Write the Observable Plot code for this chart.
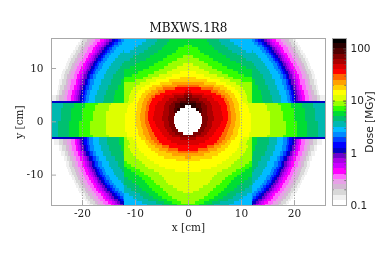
<!DOCTYPE html>
<html><head><meta charset="utf-8">
<script src="https://cdn.jsdelivr.net/npm/d3@7"></script>
<script src="https://cdn.jsdelivr.net/npm/@observablehq/plot@0.6"></script>
<style>
html,body{margin:0;padding:0;background:#fff;overflow:hidden}
#wrap{position:relative;width:383px;height:273px;filter:blur(0.35px)}
#wrap svg{position:absolute;left:0;top:0;overflow:visible;background:transparent}
</style></head><body><div id="wrap"></div>
<script>
const chartTitle = "MBXWS.1R8";
const xTicks = [-20,-10,0,10,20];
const yTicks = [-10,0,10];
const barTicks = [0.1,1,10,100];
const barMinor = [0.2,0.3,0.4,0.5,0.6,0.7,0.8,0.9,2,3,4,5,6,7,8,9,20,30,40,50,60,70,80,90];
const doseLevels = [0.1,0.126,0.158,0.2,0.251,0.316,0.398,0.501,0.631,0.794,1,1.26,1.58,2,2.51,3.16,3.98,5.01,6.31,7.94,10,12.6,15.8,20,25.1,31.6,39.8,50.1,63.1,79.4,100,126,158];
const bandColors = ["#ffffff","#f0f0f0","#d8d8d8","#d4b8d4","#e8a0e8","#ff66ff","#ff00ff","#cc00ff","#aa00e8","#6a00cc","#0000c4","#0000ff","#0040ff","#0088ff","#00bbff","#00b8b0","#00c070","#00dd33","#33ff00","#99ff00","#ddff00","#ffff00","#ffd000","#ffa000","#ff6600","#ff0000","#d80000","#aa0000","#800000","#500000","#280000","#000000"];

// each row: lower y, upper y, inner |x|, first band, then the outer |x| of that band and of each next lower band
const innerTop = [
[3.4,3.9,0,29,1.6,2.9,4.1,5.6,7,7.7,8.5,9.4,10.4,11.4,12],
[3.9,4.4,0,29,0.4,2,3.5,5,6.7,7.3,8.3,9.2,10.2,11.2,12],
[4.4,4.9,0,28,0.8,2.7,4.5,6.3,6.9,8,8.9,10,11.1,12],
[4.9,5.4,0,27,0.8,3,5.3,6.3,7.5,8.6,9.8,11,12],
[5.4,5.9,0,26,0.6,4.4,5.6,7,8.2,9.5,10.8,12],
[5.9,6.4,0,25,2.5,4.8,6,7.4,8.9,10.4,12],
[6.4,6.9,0,24,2,5,6.7,8.2,9.8,12],
[6.9,7.4,0,23,3,5.3,7.2,9,12],
[7.4,7.9,0,22,3.5,6,8,10,12],
[7.9,8.4,0,22,1.5,4.2,6.8,8.5,12],
[8.4,8.9,0,21,3,5.5,7.5,10.5,12],
[8.9,9.4,0,21,1.5,4,6.5,9.5,12],
[9.4,9.9,0,20,3,5.5,8.5,12],
[9.9,10.4,0,20,2,4.6,7.4,11,12],
[10.4,10.9,0,20,1,3.8,6.5,10,12],
[10.9,11.4,0,19,3,5.6,9,12],
[11.4,11.9,0,19,2,4.8,8,11,12],
[11.9,12.4,0,19,1,4,7.2,10.3,12],
[12.4,12.9,0,18,3,6.4,9.3,12],
[12.9,13.4,0,18,2.3,5.7,8.3,11,12],
[13.4,13.9,0,18,1.8,5,7.6,10.2,12],
[13.9,14.4,0,18,0.8,4.5,6.9,9.4,12],
[14.4,14.9,0,17,4,6.3,8.7,12],
[14.9,15.4,0,17,3.6,5.8,8,12],
[15.4,15.9,0,17,3.2,5.2,7.4,12]
];
const blockTop = [
[3.4,3.8,12,17,14.2,16,17.6,18.8,19.4,19.8,20.2,26],
[3.8,4.9,12,17,14,15.8,17.5,18.7,19.3,19.7,20,20.4,20.8,21.2,21.6,22.1,22.8,23.4,24.3,25,25.8],
[4.9,5.9,12,17,13.7,15.5,17.2,18.4,19,19.5,19.8,20.2,20.6,20.9,21.3,21.8,22.6,23.2,23.7,24.3,24.8],
[5.9,6.9,12,17,13.2,15.1,16.8,18.1,18.7,19.2,19.5,19.9,20.3,20.6,21,21.6,22.3,22.9,23.4,24.1,24.6],
[6.9,7.9,12,17,12.7,14.6,16.4,17.7,18.4,18.8,19.1,19.5,20,20.3,20.7,21.2,22,22.6,23.1,23.8,24.3],
[7.9,8.9,12,17,12.1,14.1,15.9,17.3,17.9,18.4,18.7,19.1,19.6,19.9,20.3,20.9,21.6,22.2,22.8,23.4,24],
[8.9,9.4,12,16,13.6,15.5,16.9,17.5,18,18.3,18.8,19.2,19.6,20,20.5,21.3,22,22.5,23.2,23.7],
[9.4,9.9,12,16,13.3,15.2,16.6,17.3,17.7,18.1,18.5,19,19.3,19.8,20.3,21.1,21.7,22.3,23,23.5],
[9.9,10.4,12,16,12.9,14.9,16.3,17,17.5,17.8,18.3,18.7,19.1,19.5,20.1,20.9,21.5,22.1,22.7,23.3],
[10.4,10.9,12,16,12.5,14.5,16,16.7,17.2,17.5,18,18.5,18.8,19.3,19.8,20.6,21.3,21.8,22.5,23.1],
[10.9,11.4,12,16,12.1,14.1,15.7,16.4,16.9,17.2,17.7,18.2,18.5,19,19.5,20.3,21,21.6,22.3,22.8],
[11.4,11.9,12,15,13.7,15.3,16,16.5,16.9,17.3,17.8,18.2,18.7,19.2,20,20.7,21.3,22,22.6],
[11.9,12.4,12,15,13.3,14.9,15.6,16.1,16.5,17,17.5,17.9,18.3,18.9,19.7,20.4,21,21.7,22.3],
[12.4,12.9,12,15,12.8,14.5,15.2,15.7,16.1,16.6,17.1,17.5,18,18.6,19.4,20.1,20.7,21.4,22],
[12.9,13.4,12,15,12.3,14,14.8,15.3,15.7,16.2,16.8,17.1,17.6,18.2,19.1,19.8,20.4,21.1,21.7],
[13.4,13.9,12,14,13.5,14.4,14.9,15.3,15.8,16.4,16.8,17.3,17.9,18.8,19.5,20.1,20.8,21.4],
[13.9,14.4,12,14,13,13.9,14.4,14.8,15.4,15.9,16.3,16.9,17.5,18.4,19.1,19.7,20.5,21.1],
[14.4,14.9,12,14,12.4,13.3,13.9,14.3,14.9,15.5,15.9,16.4,17.1,18,18.7,19.4,20.1,20.7],
[14.9,15.4,12,13,12.7,13.3,13.8,14.4,15,15.4,15.9,16.6,17.6,18.3,19,19.8,20.4],
[15.4,15.9,12,13,12.1,12.8,13.2,13.9,14.5,14.9,15.5,16.2,17.1,17.9,18.6,19.4,20]
];
const stripRows = [
[3,3.4,0,30,1.5,2.5,3.2,4.3,5.9,7.2,7.8,8.6,9.6,11,14.5,17,19.5,21.5,23.5,26],
[2.5,3,0.5,30,1.5,2.5,3.5,4.5,6.2,7.3,8,8.7,9.6,11.3,15,17.5,19.5,21.5,23.5,26],
[2,2.5,1.5,30,2,2.6,3.6,4.6,6.3,7.4,8,8.8,9.7,11.5,15,17.5,20,22,24,26],
[1.5,2,2,29,2.6,3.6,4.7,6.4,7.5,8.1,8.9,9.8,11.6,15.5,18,20,22,24,26],
[1,1.5,2.4,28,3.6,4.8,6.5,7.6,8.2,9,9.9,11.8,15.5,18,20,22,24,26],
[0.5,1,2.6,28,3.7,4.9,6.6,7.6,8.2,9,9.9,11.8,15.5,18,20,22,24,26],
[0,0.5,2.7,28,3.7,4.9,6.6,7.6,8.2,9,9.9,11.8,15.5,18,20,22,24,26],
[-0.5,0,2.7,28,3.5,4.6,6.2,7.4,8.1,8.9,9.8,11.8,15.5,18.5,20.5,22.5,24.5,26],
[-1,-0.5,2.5,28,3.5,4.6,6,7.2,8,8.8,9.8,11.8,15.5,18.5,20.5,22.5,24.5,26],
[-1.5,-1,2.2,28,3.2,4.3,5.6,7,7.8,8.7,9.7,11.8,15.5,18.5,20.5,22.5,24.5,26],
[-2,-1.5,1.8,28,3,4,5.3,6.8,7.6,8.5,9.5,11.8,15.5,18.5,20.5,22.5,24.5,26],
[-2.5,-2,1,28,2.5,3.5,5,6.5,7.4,8.4,9.4,11.6,15.5,18.5,20.5,22.5,24.5,26],
[-3,-2.5,0,28,1.5,3,4.5,6.2,7.2,8.2,9.2,11.5,15,18,20.5,22.5,24.5,26]
];
const innerBottom = [
[-3.5,-3,0,27,1.5,4,5.9,7,8,8.8,10.4,11.5,12],
[-4,-3.5,0,26,3.3,5.4,6.4,7.3,8.2,9.8,11.2,12],
[-4.5,-4,0,26,2,4.9,5.9,7,7.9,9.7,11,12],
[-5,-4.5,0,25,3.5,4.9,6.3,7.6,9.6,11.4,12],
[-5.5,-5,0,25,1.8,3.7,5.4,7,9.2,11,12],
[-6,-5.5,0,24,1.8,4.2,6.2,8.8,10.7,12],
[-6.5,-6,0,23,3,5.6,8.3,10.3,12],
[-7,-6.5,0,23,0.5,4.5,7.7,9.8,12],
[-7.5,-7,0,22,2.3,7.1,9.2,12],
[-8,-7.5,0,21,6.4,8.7,11.6,12],
[-8.5,-8,0,21,5.5,8.1,10.7,12],
[-9,-8.5,0,21,4.3,7.5,10,11.6,12],
[-9.5,-9,0,21,2.5,6.5,9,10.8,12],
[-10,-9.5,0,20,5.5,8.3,10,12],
[-10.5,-10,0,20,5,7.6,9.2,12],
[-11,-10.5,0,20,4.5,7,8.7,11.3,12],
[-11.5,-11,0,20,4.1,6.4,8.2,10.5,12],
[-12,-11.5,0,20,3.8,6,7.8,9.8,12],
[-12.5,-12,0,20,2.9,5.3,7.3,9.2,11.5,12],
[-13,-12.5,0,20,2,4.8,6.8,8.7,10.7,12],
[-13.5,-13,0,20,1,4.2,6.2,8,10,12],
[-14,-13.5,0,19,3.7,5.7,7.4,9,11.2,12],
[-14.5,-14,0,19,3,5,6.6,8.4,10.3,12],
[-15,-14.5,0,19,2.1,4,5.6,7.5,9.6,12],
[-15.5,-15,0,19,1.3,3,4.5,6.1,8.7,12],
[-16,-15.5,0,18,2,3.5,5,7.8,12]
];
const blockBottom = [
[-3.4,-3,12,17,13,15.2,16.7,18,18.7,19.1,19.6,26],
[-4.5,-3.4,12,17,13,15.2,16.7,18,18.7,19.1,19.6,20,20.3,20.6,20.9,21.4,22,22.9,23.6,24.4,25.2],
[-5.5,-4.5,12,17,12.7,14.9,16.4,17.7,18.4,18.8,19.2,19.7,20.1,20.4,20.7,21.2,21.8,22.4,23,23.7,24.4],
[-6.5,-5.5,12,17,12.3,14.5,16.1,17.4,18,18.4,18.7,19.2,19.6,19.9,20.3,20.8,21.5,22.1,22.7,23.3,23.9],
[-7.5,-6.5,12,16,13.8,15.5,16.8,17.4,17.9,18.2,18.6,19.1,19.4,19.8,20.3,21.1,21.7,22.2,22.8,23.4],
[-8.5,-7.5,12,16,13.3,15,16.3,17,17.5,17.8,18.2,18.7,19,19.4,20,20.7,21.4,21.9,22.5,23],
[-9,-8.5,12,16,12.8,14.6,15.9,16.6,17.1,17.4,17.9,18.3,18.6,19.1,19.6,20.4,21,21.6,22.2,22.8],
[-9.5,-9,12,16,12.4,14.2,15.7,16.3,16.8,17.2,17.6,18.1,18.4,18.8,19.4,20.2,20.8,21.4,22,22.6],
[-10,-9.5,12,16,12.1,13.9,15.4,16.1,16.6,16.9,17.3,17.8,18.1,18.6,19.2,19.9,20.6,21.2,21.8,22.4],
[-10.5,-10,12,15,13.6,15,15.7,16.2,16.6,17.1,17.5,17.9,18.3,18.9,19.7,20.4,20.9,21.6,22.1],
[-11,-10.5,12,15,13.2,14.7,15.4,15.9,16.2,16.7,17.2,17.6,18,18.6,19.4,20.1,20.7,21.3,21.9],
[-11.5,-11,12,15,12.7,14.3,15,15.6,15.9,16.4,16.9,17.2,17.7,18.3,19.1,19.8,20.4,21.1,21.6],
[-12,-11.5,12,15,12.3,13.9,14.7,15.2,15.6,16.1,16.6,16.9,17.4,18,18.8,19.5,20.1,20.8,21.4],
[-12.5,-12,12,14,13.5,14.2,14.8,15.2,15.7,16.2,16.6,17.1,17.7,18.5,19.2,19.8,20.5,21.1],
[-13,-12.5,12,14,13,13.8,14.4,14.7,15.3,15.8,16.2,16.7,17.3,18.2,18.9,19.5,20.2,20.8],
[-13.5,-13,12,14,12.4,13.3,13.9,14.3,14.8,15.4,15.7,16.3,16.9,17.8,18.5,19.2,19.9,20.5],
[-14,-13.5,12,14,12.1,12.8,13.4,13.8,14.4,14.9,15.3,15.9,16.5,17.4,18.2,18.8,19.5,20.1],
[-14.5,-14,12,13,12.2,12.9,13.3,13.9,14.5,14.9,15.4,16.1,17,17.8,18.4,19.2,19.8],
[-15,-14.5,12,12,12.3,12.7,13.3,13.9,14.4,14.9,15.6,16.6,17.4,18,18.8,19.4],
[-15.5,-15,12,11,12.1,12.8,13.4,13.8,14.4,15.1,16.1,16.9,17.6,18.4,19],
[-16,-15.5,12,10,12.2,12.8,13.3,13.9,14.6,15.7,16.5,17.2,18,18.6]
];

const cells = [];
for (const row of [...innerTop, ...blockTop, ...stripRows, ...innerBottom, ...blockBottom]) {
  const [y1, y2, x0, firstBand, ...ends] = row;
  let inner = x0;
  ends.forEach((outer, i) => {
    const dose = doseLevels[firstBand - i];
    cells.push({x1: inner, x2: outer, y1, y2, dose});
    cells.push({x1: -outer, x2: -inner, y1, y2, dose});
    inner = outer;
  });
}
const colorScale = {type: "threshold", domain: doseLevels.slice(1, -1), range: bandColors};
const serif = "'DejaVu Serif', serif";
const sans = "'DejaVu Sans', sans-serif";
const frameGray = "#a8a8a8";

const main = Plot.plot({
  width: 383, height: 273,
  marginLeft: 51, marginRight: 58, marginTop: 38, marginBottom: 68,
  style: {fontFamily: serif, fontSize: "10.5px", color: "#222", background: "transparent"},
  x: {domain: [-25.85, 25.85]},
  y: {domain: [-15.7, 15.63]},
  color: colorScale,
  marks: [
    Plot.rect(cells, {x1: "x1", x2: "x2", y1: "y1", y2: "y2", fill: "dose", clip: true, shapeRendering: "crispEdges"}),
    Plot.ruleX(xTicks, {stroke: "#a0a0a0", strokeWidth: 1, strokeDasharray: "1.2,1.6"}),
    Plot.frame({stroke: frameGray, strokeWidth: 1}),
    Plot.axisX({ticks: xTicks, tickSize: 0, tickPadding: 4, tickFormat: d => String(d), label: "x [cm]", labelAnchor: "center", labelArrow: "none", labelOffset: 25}),
    Plot.axisY({ticks: yTicks, tickSize: 0, tickPadding: 8, tickFormat: d => String(d), label: "y [cm]", labelAnchor: "center", labelArrow: "none", labelOffset: 36}),
    Plot.ruleY(yTicks, {x1: -25.85, x2: -24.9, stroke: frameGray}),
    Plot.ruleX(xTicks, {y1: -15.7, y2: -14.8, stroke: frameGray}),
    Plot.text([chartTitle], {frameAnchor: "top", dy: -15, fontSize: 12, fill: "#111"})
  ]
});

const barBands = bandColors.map((c, i) => ({lo: doseLevels[i], hi: doseLevels[i + 1], dose: doseLevels[i]}));
const bar = Plot.plot({
  width: 383, height: 273,
  marginLeft: 332, marginRight: 37, marginTop: 38, marginBottom: 68,
  style: {fontFamily: sans, fontSize: "10.5px", color: "#222", background: "transparent"},
  x: {domain: [0, 1], axis: null},
  y: {type: "log", domain: [0.1, 158]},
  color: colorScale,
  marks: [
    Plot.rect(barBands, {x1: 0, x2: 1, y1: "lo", y2: "hi", fill: "dose", shapeRendering: "crispEdges"}),
    Plot.ruleY(barMinor, {x1: 0, x2: 0.12, stroke: "#555", strokeOpacity: 0.7}),
    Plot.ruleY(barMinor, {x1: 0.88, x2: 1, stroke: "#555", strokeOpacity: 0.7}),
    Plot.ruleY(barTicks, {x1: 0, x2: 0.2, stroke: "#444"}),
    Plot.ruleY(barTicks, {x1: 0.8, x2: 1, stroke: "#444"}),
    Plot.frame({stroke: frameGray, strokeWidth: 1}),
    Plot.axisY({anchor: "right", ticks: barTicks, tickSize: 0, tickPadding: 4, tickFormat: d => String(d), label: "Dose [MGy]", labelAnchor: "center", labelArrow: "none", labelOffset: 26})
  ]
});
const wrap = document.getElementById("wrap");
wrap.append(main, bar);
</script></body></html>
